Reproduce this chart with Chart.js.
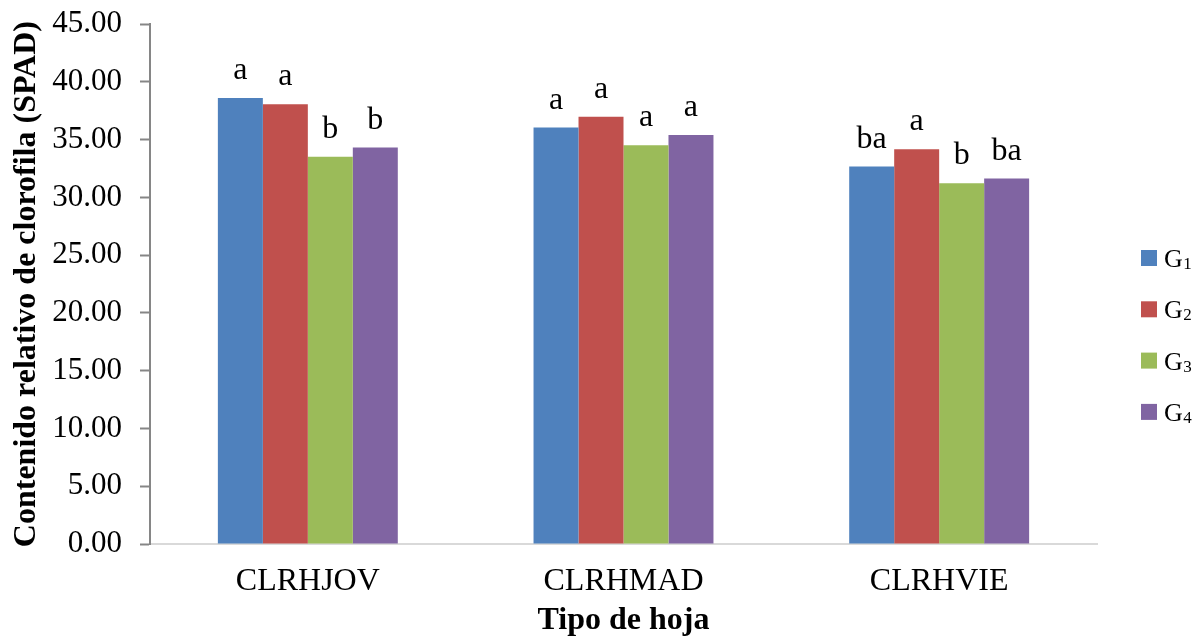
<!DOCTYPE html>
<html>
<head>
<meta charset="utf-8">
<title>Contenido relativo de clorofila</title>
<script src="https://cdn.jsdelivr.net/npm/chart.js@4.4.1/dist/chart.umd.min.js"></script>
<style>
  html, body { margin: 0; padding: 0; background: #ffffff; }
  #wrap { width: 1199px; height: 640px; }
</style>
</head>
<body>
<div id="wrap"><canvas id="chart" width="1199" height="640"></canvas></div>
<script>
// Leaf types (categories)
const leafTypes = ['CLRHJOV', 'CLRHMAD', 'CLRHVIE'];

// SPAD readings per group
const g1 = [38.62, 36.05, 32.68];
const g2 = [38.08, 36.98, 34.18];
const g3 = [33.52, 34.52, 31.24];
const g4 = [34.32, 35.40, 31.64];

// Mean-separation letters per group, one per leaf type
const g1Letters = ['a', 'a', 'ba'];
const g2Letters = ['a', 'a', 'a'];
const g3Letters = ['b', 'a', 'b'];
const g4Letters = ['b', 'a', 'ba'];

// Legend names (base letter + subscript index)
const groupNames = ['G1', 'G2', 'G3', 'G4'];

// Y axis range
const yMin = 0, yMax = 45, yStep = 5;

const colors = ['#4F81BD', '#C0504D', '#9BBB59', '#8064A2'];
const serif = '"Liberation Serif", "Times New Roman", serif';

const seriesValues = [g1, g2, g3, g4];
const seriesLetters = [g1Letters, g2Letters, g3Letters, g4Letters];

const datasets = seriesValues.map((vals, i) => ({
  label: groupNames[i],
  data: vals,
  letters: seriesLetters[i],
  backgroundColor: colors[i],
  borderWidth: 0,
  categoryPercentage: 0.57,
  barPercentage: 1.0
}));

// Draws the significance letters above each bar
const letterPlugin = {
  id: 'letters',
  afterDatasetsDraw(chart) {
    const ctx = chart.ctx;
    ctx.save();
    ctx.font = '32px ' + serif;
    ctx.fillStyle = '#000000';
    ctx.textAlign = 'center';
    ctx.textBaseline = 'alphabetic';
    chart.data.datasets.forEach((ds, di) => {
      const meta = chart.getDatasetMeta(di);
      meta.data.forEach((bar, idx) => {
        ctx.fillText(ds.letters[idx], bar.x, bar.y - 19);
      });
    });
    ctx.restore();
  }
};

// Legend on the right with subscripted group numbers
const sideLegend = {
  id: 'sideLegend',
  afterDraw(chart) {
    const ctx = chart.ctx;
    const area = chart.chartArea;
    const boxX = area.right + 44;
    const firstY = 258;
    const gap = 51.3;
    ctx.save();
    chart.data.datasets.forEach((ds, i) => {
      const cy = firstY + i * gap;
      ctx.fillStyle = ds.backgroundColor;
      ctx.fillRect(boxX, cy - 8, 16, 16);
      const base = ds.label.slice(0, 1);
      const sub = ds.label.slice(1);
      ctx.fillStyle = '#000000';
      ctx.textAlign = 'left';
      ctx.textBaseline = 'alphabetic';
      ctx.font = '26px ' + serif;
      const tx = boxX + 23;
      ctx.fillText(base, tx, cy + 9);
      const w = ctx.measureText(base).width;
      ctx.font = '17px ' + serif;
      ctx.fillText(sub, tx + w + 0.5, cy + 11);
    });
    ctx.restore();
  }
};

new Chart(document.getElementById('chart'), {
  type: 'bar',
  data: { labels: leafTypes, datasets },
  plugins: [letterPlugin, sideLegend],
  options: {
    responsive: false,
    animation: false,
    layout: { padding: { top: 0, right: 102, bottom: 0, left: 0 } },
    plugins: {
      legend: { display: false },
      tooltip: { enabled: false }
    },
    scales: {
      x: {
        grid: { display: true, drawOnChartArea: false, drawTicks: false },
        border: { display: true, color: '#d9d9d9', width: 2 },
        ticks: {
          color: '#000000',
          font: { family: serif, size: 32 },
          padding: 18
        },
        title: {
          display: true,
          text: 'Tipo de hoja',
          color: '#000000',
          font: { family: serif, size: 32, weight: 'bold' },
          padding: { top: 0, bottom: 0 }
        },
        afterFit(scale) { scale.height = 96; }
      },
      y: {
        min: yMin,
        max: yMax,
        grid: {
          drawOnChartArea: false,
          drawTicks: true,
          tickLength: 10,
          tickWidth: 2,
          tickColor: '#868686'
        },
        border: { display: true, color: '#868686', width: 2 },
        ticks: {
          stepSize: yStep,
          color: '#000000',
          // compact line box keeps the top label from pushing the plot down
          font: { family: serif, size: 31, lineHeight: 0.4 },
          padding: 18,
          callback: v => Number(v).toFixed(2)
        },
        title: {
          display: true,
          text: 'Contenido relativo de clorofila (SPAD)',
          color: '#000000',
          font: { family: serif, size: 32, weight: 'bold' },
          padding: { top: 8, bottom: 0 }
        },
        afterFit(scale) { scale.width = 150; }
      }
    }
  }
});
</script>
</body>
</html>
